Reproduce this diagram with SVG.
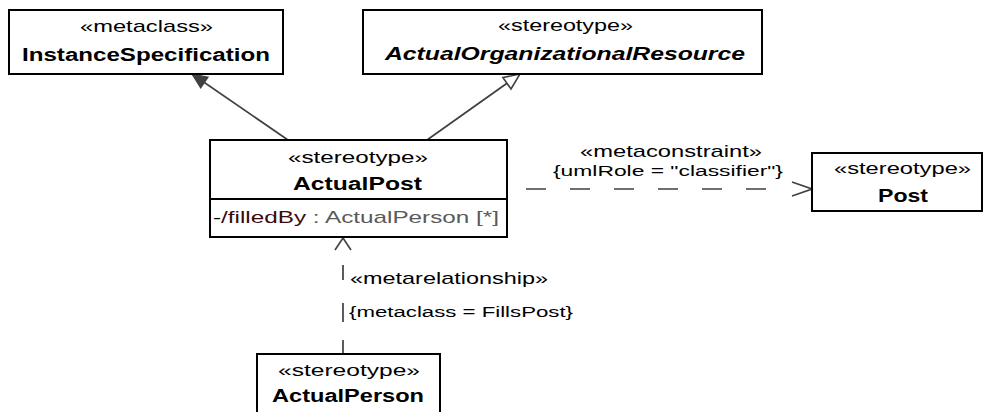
<svg xmlns="http://www.w3.org/2000/svg" width="986" height="412" viewBox="0 0 986 412">
<style>
  .box { fill: #ffffff; stroke: #000000; stroke-width: 2; }
  .div { stroke: #000000; stroke-width: 2; }
  .st { font-family: "Liberation Sans", Arial, sans-serif; font-size: 17px; fill: #000000; }
  .nm { font-family: "Liberation Sans", Arial, sans-serif; font-size: 18px; font-weight: bold; fill: #000000; }
  .it { font-style: italic; }
  .sm { font-family: "Liberation Sans", Arial, sans-serif; font-size: 15.5px; fill: #000000; }
  .conn { fill: none; stroke: #404040; stroke-width: 1.7; }
</style>
<defs>
  <marker id="triFilled" markerUnits="userSpaceOnUse" markerWidth="20" markerHeight="20" viewBox="-18 -10 20 20" refX="0" refY="0" orient="auto">
    <path d="M0,0 L-15,-6.5 L-15,6.5 Z" fill="#404040" stroke="#404040" stroke-width="1.2" stroke-dasharray="none"/>
  </marker>
  <marker id="triHollow" markerUnits="userSpaceOnUse" markerWidth="20" markerHeight="20" viewBox="-18 -10 20 20" refX="0" refY="0" orient="auto">
    <path d="M0,0 L-16,-7 L-16,7 Z" fill="#ffffff" stroke="#404040" stroke-width="1.6" stroke-dasharray="none"/>
  </marker>
  <marker id="openH" markerUnits="userSpaceOnUse" markerWidth="24" markerHeight="20" viewBox="-22 -10 24 20" refX="0" refY="0" orient="auto">
    <path d="M-20,-7 L0,0 L-20,7" fill="none" stroke="#404040" stroke-width="1.6" stroke-dasharray="none"/>
  </marker>
  <marker id="openV" markerUnits="userSpaceOnUse" markerWidth="20" markerHeight="20" viewBox="-16 -10 18 20" refX="0" refY="0" orient="auto">
    <path d="M-12,-8 L0,0 L-12,8" fill="none" stroke="#404040" stroke-width="1.6" stroke-dasharray="none"/>
  </marker>
</defs>

<g id="connectors">
  <path class="conn" d="M288,140 L192,74" marker-end="url(#triFilled)"/>
  <path class="conn" d="M427,140 L520,74" marker-end="url(#triHollow)"/>
  <path class="conn" d="M526,189 L812,189" stroke-dasharray="20 24 20 24 20 24 20 24 20 24 20 46" marker-end="url(#openH)"/>
  <path class="conn" d="M343,354 L343,238" stroke-dasharray="14 18 19 23 15 27" marker-end="url(#openV)"/>
  <text class="st" x="580" y="157" textLength="182" lengthAdjust="spacingAndGlyphs">«metaconstraint»</text>
  <text class="sm" x="553" y="176" textLength="230" lengthAdjust="spacingAndGlyphs">{umlRole = "classifier"}</text>
  <text class="st" x="350" y="284" textLength="198" lengthAdjust="spacingAndGlyphs">«metarelationship»</text>
  <text class="sm" x="349" y="317" textLength="224" lengthAdjust="spacingAndGlyphs">{metaclass = FillsPost}</text>
</g>

<g id="InstanceSpecification">
  <rect class="box" x="9" y="10" width="274" height="64"/>
  <text class="st" x="80" y="32" textLength="133" lengthAdjust="spacingAndGlyphs">«metaclass»</text>
  <text class="nm" x="22" y="61" textLength="248" lengthAdjust="spacingAndGlyphs">InstanceSpecification</text>
</g>

<g id="ActualOrganizationalResource">
  <rect class="box" x="363" y="10" width="399" height="64"/>
  <text class="st" x="498" y="31" textLength="135" lengthAdjust="spacingAndGlyphs">«stereotype»</text>
  <text class="nm it" x="385" y="60" textLength="360" lengthAdjust="spacingAndGlyphs">ActualOrganizationalResource</text>
</g>

<g id="ActualPost">
  <rect class="box" x="210" y="140" width="297" height="97"/>
  <line class="div" x1="210" y1="199" x2="507" y2="199"/>
  <text class="st" x="288" y="163" textLength="140" lengthAdjust="spacingAndGlyphs">«stereotype»</text>
  <text class="nm" x="293" y="190" textLength="129" lengthAdjust="spacingAndGlyphs">ActualPost</text>
  <text class="st" x="213" y="223" textLength="286" lengthAdjust="spacingAndGlyphs"><tspan fill="#000000">-</tspan><tspan fill="#3c0a0a">/filledBy</tspan><tspan fill="#5a5a5a"> : ActualPerson [*]</tspan></text>
</g>

<g id="Post">
  <rect class="box" x="812" y="153" width="170" height="58"/>
  <text class="st" x="834" y="174" textLength="137" lengthAdjust="spacingAndGlyphs">«stereotype»</text>
  <text class="nm" x="878" y="202" textLength="50" lengthAdjust="spacingAndGlyphs">Post</text>
</g>

<g id="ActualPerson">
  <rect class="box" x="257" y="354" width="183" height="70"/>
  <text class="st" x="278" y="376" textLength="142" lengthAdjust="spacingAndGlyphs">«stereotype»</text>
  <text class="nm" x="272" y="402" textLength="152" lengthAdjust="spacingAndGlyphs">ActualPerson</text>
</g>
</svg>
